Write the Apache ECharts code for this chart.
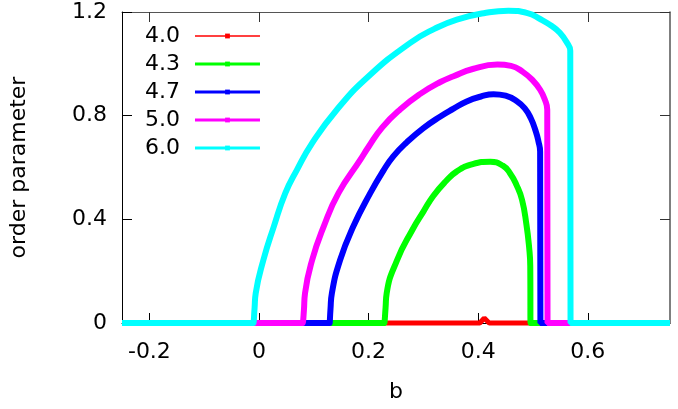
<!DOCTYPE html>
<html>
<head>
<meta charset="utf-8">
<script src="https://cdn.jsdelivr.net/npm/echarts@6/dist/echarts.min.js"></script>
<style>
  html, body { margin: 0; padding: 0; background: #fff; }
  #chart { width: 678px; height: 409px; }
</style>
</head>
<body>
<div id="chart"></div>
<script>
// order parameter vs b, one curve per value
const names = ['4.0', '4.3', '4.7', '5.0', '6.0'];
const colors = ['#ff0000', '#00ff00', '#0000ff', '#ff00ff', '#00ffff'];
const xTicks = [-0.2, 0, 0.2, 0.4, 0.6];

const s40 = [[-0.25, 0], [0.403, 0], [0.411, 0.019], [0.42, 0], [0.75, 0]];

const s43 = [[-0.25, 0], [0.229, 0], [0.2295, 0], [0.231, 0.06], [0.233, 0.115], [0.252, 0.243], [0.28, 0.36],
  [0.3, 0.43], [0.318, 0.49], [0.34, 0.545], [0.361, 0.585], [0.39, 0.613], [0.422, 0.622],
  [0.445, 0.607], [0.458, 0.578], [0.47, 0.532], [0.48, 0.475], [0.488, 0.38], [0.493, 0.29],
  [0.495, 0.22], [0.4955, 0], [0.4965, 0], [0.75, 0]];

const s47 = [[-0.25, 0], [0.129, 0], [0.1295, 0], [0.1305, 0.055], [0.133, 0.115], [0.148, 0.243], [0.172, 0.372],
  [0.203, 0.501], [0.227, 0.588], [0.245, 0.643], [0.27, 0.698], [0.3, 0.752], [0.331, 0.797],
  [0.355, 0.827], [0.379, 0.855], [0.405, 0.874], [0.428, 0.883], [0.45, 0.877], [0.47, 0.857],
  [0.485, 0.828], [0.496, 0.79], [0.505, 0.74], [0.51, 0.7], [0.513, 0.662], [0.5135, 0],
  [0.5145, 0], [0.75, 0]];

const s50 = [[-0.25, 0], [0.08, 0], [0.081, 0], [0.082, 0.05], [0.084, 0.115], [0.097, 0.243],
  [0.118, 0.372], [0.145, 0.501], [0.185, 0.63], [0.2, 0.68], [0.225, 0.755], [0.258, 0.825],
  [0.295, 0.885], [0.331, 0.93], [0.355, 0.952], [0.39, 0.98], [0.435, 0.997], [0.46, 0.992],
  [0.482, 0.968], [0.5, 0.935], [0.513, 0.9], [0.521, 0.865], [0.526, 0.823], [0.5265, 0],
  [0.5275, 0], [0.75, 0]];

const s60 = [[-0.25, 0], [-0.01, 0], [-0.009, 0], [-0.008, 0.06], [-0.006, 0.115], [0.008, 0.243], [0.027, 0.372],
  [0.048, 0.501], [0.069, 0.59], [0.097, 0.694], [0.142, 0.823], [0.2, 0.952],
  [0.276, 1.081], [0.32, 1.135], [0.361, 1.171], [0.41, 1.195], [0.455, 1.205], [0.49, 1.196],
  [0.513, 1.173], [0.535, 1.145], [0.549, 1.12], [0.561, 1.085], [0.568, 1.05], [0.5685, 0],
  [0.5695, 0], [0.75, 0]];

const seriesData = [s40, s43, s47, s50, s60];
const legendWidths = [1.5, 3, 3, 3, 3];
const plotWidths = [5, 6, 6, 6, 6];

const font = 'DejaVu Sans';
const chart = echarts.init(document.getElementById('chart'), null, { renderer: 'canvas' });

function fmt(v) {
  return v === 0 ? '0' : (Math.round(v * 10) / 10).toString();
}

const option = {
  animation: false,
  backgroundColor: '#fff',
  textStyle: { fontFamily: font },
  grid: { left: 121, right: 8, top: 12, bottom: 86, containLabel: false },
  legend: {
    left: 140,
    top: 17,
    orient: 'vertical',
    align: 'right',
    itemWidth: 65,
    itemHeight: 6,
    itemGap: 0,
    textStyle: { fontSize: 22, fontFamily: font, color: '#000', lineHeight: 28, padding: [0, 10, 0, 0] },
    data: names.map((n, i) => ({ name: n, lineStyle: { width: legendWidths[i] } }))
  },
  xAxis: [{
    type: 'value',
    min: -0.25,
    max: 0.75,
    name: 'b',
    nameLocation: 'middle',
    nameGap: 58,
    nameTextStyle: { fontSize: 22, fontFamily: font, color: '#000' },
    axisLine: { onZero: false, lineStyle: { color: '#000', width: 1 } },
    axisTick: { inside: true, length: 10, customValues: xTicks, lineStyle: { color: '#000' } },
    axisLabel: { customValues: xTicks, formatter: fmt, fontSize: 22, fontFamily: font, color: '#000', margin: 18 },
    splitLine: { show: false }
  }, {
    type: 'value',
    position: 'top',
    min: -0.25,
    max: 0.75,
    axisLine: { onZero: false, lineStyle: { color: '#555', width: 1 } },
    axisTick: { inside: true, length: 10, customValues: xTicks, lineStyle: { color: '#333' } },
    axisLabel: { show: false },
    splitLine: { show: false }
  }],
  yAxis: [{
    type: 'value',
    min: 0,
    max: 1.2,
    interval: 0.4,
    name: 'order parameter',
    nameLocation: 'middle',
    nameGap: 92,
    nameTextStyle: { fontSize: 22, fontFamily: font, color: '#000' },
    axisLine: { show: true, onZero: false, lineStyle: { color: '#000', width: 1 } },
    axisTick: { show: true, inside: true, length: 10, lineStyle: { color: '#000' } },
    axisLabel: { formatter: fmt, fontSize: 22, fontFamily: font, color: '#000', margin: 15 },
    splitLine: { show: false }
  }, {
    type: 'value',
    position: 'right',
    min: 0,
    max: 1.2,
    interval: 0.4,
    axisLine: { show: true, onZero: false, lineStyle: { color: '#555', width: 1.5 } },
    axisTick: { show: true, inside: true, length: 10, lineStyle: { color: '#333' } },
    axisLabel: { show: false },
    splitLine: { show: false }
  }],
  series: names.map((n, i) => ({
    name: n,
    type: 'line',
    data: seriesData[i],
    color: colors[i],
    symbol: 'rect',
    symbolSize: 5,
    showSymbol: false,
    clip: false,
    smooth: i === 0 ? false : 0.5,
    lineStyle: { width: plotWidths[i], color: colors[i] },
    itemStyle: { color: colors[i] }
  }))
};

chart.setOption(option);
</script>
</body>
</html>
